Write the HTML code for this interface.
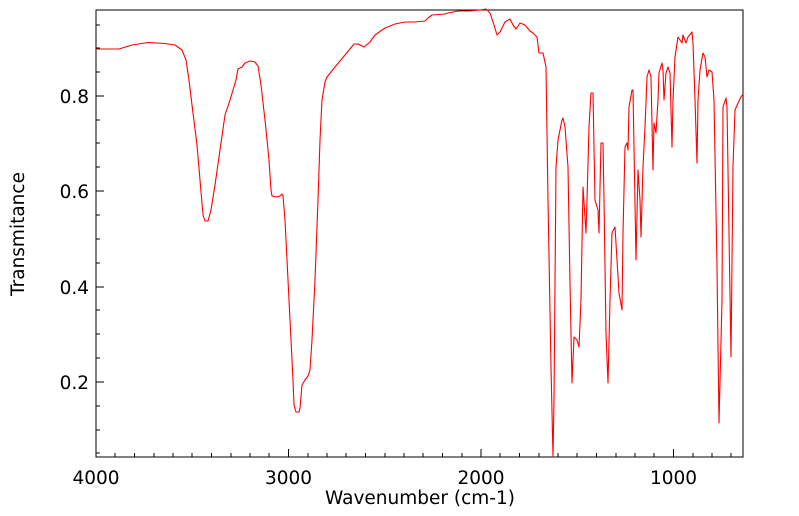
<!DOCTYPE html>
<html><head><style>body{margin:0;background:#fff}svg{display:block}text{font-family:"DejaVu Sans","Liberation Sans",sans-serif;font-size:18.5px;fill:#000}</style></head><body>
<svg width="799" height="516" viewBox="0 0 799 516">
<rect x="96" y="10" width="647" height="447" fill="none" stroke="#000" stroke-width="1"/>
<g stroke="#000" stroke-width="1">
<line x1="96" y1="96" x2="104" y2="96"/><line x1="96" y1="191" x2="104" y2="191"/><line x1="96" y1="287" x2="104" y2="287"/><line x1="96" y1="382" x2="104" y2="382"/>
<line x1="96" y1="25" x2="100" y2="25"/><line x1="96" y1="48" x2="100" y2="48"/><line x1="96" y1="72" x2="100" y2="72"/><line x1="96" y1="120" x2="100" y2="120"/><line x1="96" y1="143" x2="100" y2="143"/><line x1="96" y1="167" x2="100" y2="167"/><line x1="96" y1="215" x2="100" y2="215"/><line x1="96" y1="239" x2="100" y2="239"/><line x1="96" y1="263" x2="100" y2="263"/><line x1="96" y1="310" x2="100" y2="310"/><line x1="96" y1="334" x2="100" y2="334"/><line x1="96" y1="358" x2="100" y2="358"/><line x1="96" y1="406" x2="100" y2="406"/><line x1="96" y1="430" x2="100" y2="430"/><line x1="96" y1="453" x2="100" y2="453"/>
<line x1="288.5" y1="457" x2="288.5" y2="449"/><line x1="481" y1="457" x2="481" y2="449"/><line x1="673.5" y1="457" x2="673.5" y2="449"/>
<line x1="115" y1="457" x2="115" y2="453"/><line x1="134.5" y1="457" x2="134.5" y2="453"/><line x1="154" y1="457" x2="154" y2="453"/><line x1="173" y1="457" x2="173" y2="453"/><line x1="192" y1="457" x2="192" y2="453"/><line x1="211.5" y1="457" x2="211.5" y2="453"/><line x1="231" y1="457" x2="231" y2="453"/><line x1="250" y1="457" x2="250" y2="453"/><line x1="269" y1="457" x2="269" y2="453"/>
<line x1="308" y1="457" x2="308" y2="453"/><line x1="327" y1="457" x2="327" y2="453"/><line x1="346" y1="457" x2="346" y2="453"/><line x1="365.5" y1="457" x2="365.5" y2="453"/><line x1="385" y1="457" x2="385" y2="453"/><line x1="404" y1="457" x2="404" y2="453"/><line x1="423" y1="457" x2="423" y2="453"/><line x1="442.5" y1="457" x2="442.5" y2="453"/><line x1="462" y1="457" x2="462" y2="453"/>
<line x1="500" y1="457" x2="500" y2="453"/><line x1="519.5" y1="457" x2="519.5" y2="453"/><line x1="539" y1="457" x2="539" y2="453"/><line x1="558" y1="457" x2="558" y2="453"/><line x1="577" y1="457" x2="577" y2="453"/><line x1="596.5" y1="457" x2="596.5" y2="453"/><line x1="616" y1="457" x2="616" y2="453"/><line x1="635" y1="457" x2="635" y2="453"/><line x1="654" y1="457" x2="654" y2="453"/>
<line x1="693" y1="457" x2="693" y2="453"/><line x1="712" y1="457" x2="712" y2="453"/><line x1="731" y1="457" x2="731" y2="453"/>
</g>
<g text-anchor="end"><text x="89" y="103">0.8</text><text x="89" y="198">0.6</text><text x="89" y="294">0.4</text><text x="89" y="389">0.2</text></g>
<g text-anchor="middle"><text x="96" y="484">4000</text><text x="288.5" y="484">3000</text><text x="481" y="484">2000</text><text x="673.5" y="484">1000</text>
<text x="420" y="504">Wavenumber (cm-1)</text>
<text transform="translate(24,234) rotate(-90)">Transmitance</text></g>
<polyline fill="none" stroke="#ff0000" stroke-width="1.1" stroke-linejoin="round" points="96,49 119,49 132,45 148,42.5 165,43.5 175,45 182,50 186,60 189,80 192,105 193,113 197,145 200,180 203,215 205,221 208,221 211,210 215,185 220,150 225,115 230,100 236,80 238,69 242,67 245,63 250,61 255,62 258,66 261,85 265,120 269,160 271,190 272,196 277,197 280,196 282,194 283,196 285,220 287,260 290,320 293,380 294,405 296,412 299,412 300,408 302,385 305,380 308,376 310,370 312,340 315,280 318,200 320,140 322,100 325,82 327,77 335,67 345,55 354,44 358,44 364,47 370,42 375,35 385,28 395,24 405,22 415,22 425,21 428,18 432,15 445,14 448,13 453,12 458,11 470,11 480,10 486,9 490,13 494,25 497,35 500,32 505,22 510,19 513,25 516,29 520,23 525,25 530,31 533,33 537,37 539,53 543,53 546,67 548,200 551,367 553,457 554,400 556,167 558,140 562,120 563,118 565,127 568,167 570,283 572,383 574,337 577,340 579,347 581,300 583,187 586,233 587,200 589,127 591,93 593,93 595,200 598,210 599,233 601,143 603,143 604,200 606,333 608,383 610,300 612,233 615,227 617,260 619,293 622,310 623,233 625,147 627,143 628,150 629,107 632,90 633,90 636,260 638,170 640,200 641,237 643,167 645,127 647,77 649,70 651,77 653,170 654,123 656,133 658,100 659,73 662,63 663,70 664,100 666,73 668,67 670,73 672,147 673,100 675,57 678,37 680,40 682,43 683,35 686,43 688,37 692,32 693,43 695,100 697,163 698,100 700,70 703,53 705,57 707,77 709,70 712,72 714,100 717,267 719,423 722,300 723,107 726,98 727,107 729,233 731,357 733,167 735,110 738,103 741,97 743,94"/>
</svg>
</body></html>
